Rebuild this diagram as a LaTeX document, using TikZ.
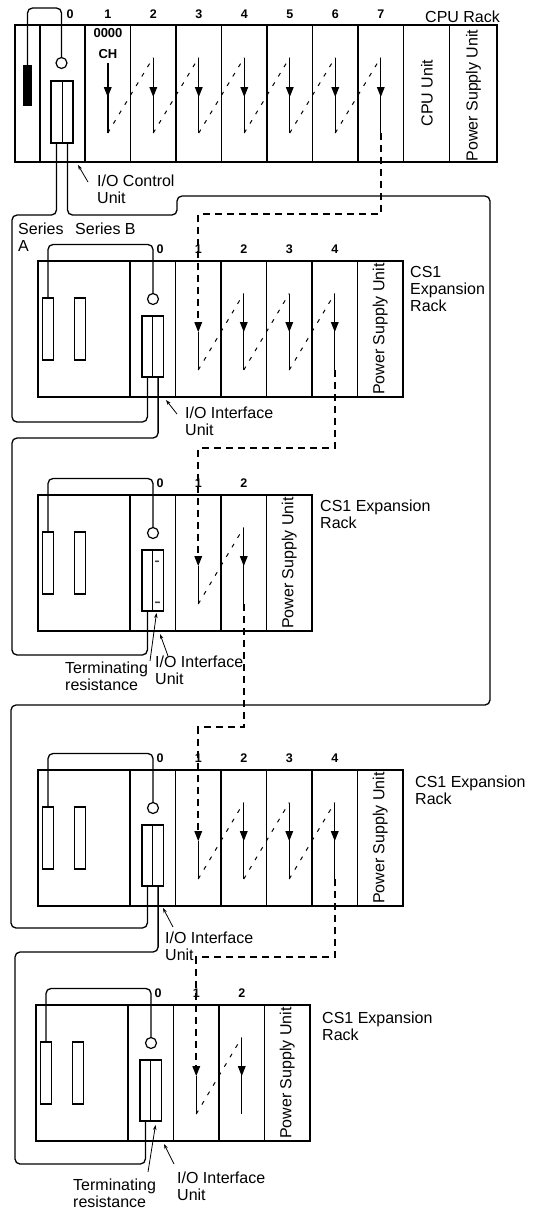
\documentclass[tikz,border=0pt]{standalone}
\usepackage{fontspec}
\setmainfont{Liberation Sans}
\usetikzlibrary{arrows.meta}
\tikzset{
  rackline/.style={line width=2pt},
  divline/.style={line width=1.2pt},
  cable/.style={line width=1.3pt, rounded corners=5pt},
  flowdash/.style={line width=1.6pt, dash pattern=on 7pt off 5pt},
  diagdash/.style={line width=1pt, dash pattern=on 4pt off 7pt},
  flowline/.style={line width=1.4pt},
  lbl/.style={inner sep=0pt, font=\fontsize{16}{17.3}\selectfont, align=left},
  num/.style={inner sep=0pt, font=\fontsize{12.5}{14}\selectfont\bfseries},
  rotlbl/.style={inner sep=0pt, font=\fontsize{16}{17.3}\selectfont, rotate=90},
  ptr/.style={line width=0.8pt, -{Stealth[length=5pt,width=3.5pt]}},
  smallbox/.style={line width=1.2pt, fill=white},
}
\newcommand{\DownHead}[2]{\fill ({#1-4},{#2-10}) -- ({#1+4},{#2-10}) -- ({#1},{#2}) -- cycle;}
\newcommand{\ExpRack}[4]{%
\begin{scope}[shift={(#2,#3)}]
  \pgfmathsetmacro{\rackR}{175.5+45.5*(#4+1)}
  \pgfmathsetmacro{\rklast}{198.25+45.5*(#4-1)}
  \pgfmathtruncatemacro{\rkm}{#4-1}
  \foreach \k in {0,...,#4}{\pgfmathsetmacro{\rkdx}{175.5+45.5*\k}\draw[divline] (\rkdx,0) -- (\rkdx,136);}
  \draw[line width=1.5pt] (130,0) -- (130,136);
  \draw[rackline] (38,0) rectangle (\rackR,136);
  \draw[smallbox] (42.5,37) rectangle (53.5,99);
  \draw[smallbox] (74.5,37) rectangle (85.5,99);
  \draw[cable] (48,37) -- (48,-16.5) -- (153,-16.5) -- (153,32.5);
  \draw[line width=1.2pt] (153,38) circle (5.5pt);
  \draw[smallbox] (142,55) rectangle (163.5,116);
  \draw[line width=1pt] (152.75,55) -- (152.75,116);
  \coordinate (#1-cl) at (147.4,116);
  \coordinate (#1-cr) at (158.1,116);
  \node[num, anchor=base] (#1-n0) at (160,-8) {0};
  \foreach \k in {1,...,#4}{\pgfmathsetmacro{\rksx}{198.25+45.5*(\k-1)}
    \node[num, anchor=base] (#1-n\k) at (\rksx,-8) {\k};}
  % slot 1 arrow (dashed part comes from above)
  \draw[flowline] (198.25,71) -- (198.25,109);
  \DownHead{198.25}{71}
  \foreach \k in {2,...,#4}{\pgfmathsetmacro{\rksx}{198.25+45.5*(\k-1)}
    \draw[flowline] (\rksx,32.5) -- (\rksx,109);
    \DownHead{\rksx}{71}}
  \foreach \k in {1,...,\rkm}{\pgfmathsetmacro{\rksx}{198.25+45.5*(\k-1)}
    \draw[diagdash] (\rksx,109) -- ({\rksx+45.5},32.5);}
  \coordinate (#1-in) at (198.25,61);
  \coordinate (#1-out) at (\rklast,109);
  \node[rotlbl] (#1-psu) at ({\rackR-22.75},68) {Power Supply Unit};
\end{scope}}
\begin{document}
\begin{tikzpicture}[x=1pt,y=-1pt]
\useasboundingbox (0,0) rectangle (540,1213);
% ---------------- CPU rack ----------------
\foreach \dv in {40,130.5,176,221.5,267,312.5,358,449.5}{\draw[divline] (\dv,25) -- (\dv,162);}
\draw[line width=1.8pt] (85,25) -- (85,162);
\draw[line width=1.6pt] (403.5,25) -- (403.5,162);
\draw[rackline] (15,25) rectangle (497,162);
\fill (23,65) rectangle (32,106);
\draw[cable] (27.5,65) -- (27.5,8) -- (61.5,8) -- (61.5,57.5);
\draw[line width=1.2pt] (61.5,63) circle (5.5pt);
\draw[smallbox] (51,81) rectangle (73,143);
\draw[line width=1pt] (62,81) -- (62,143);
\coordinate (cpu-cl) at (56.5,143);
\coordinate (cpu-cr) at (67.5,143);
\node[num, anchor=base] (cpu-n0) at (70,18) {0};
\foreach \k in {1,...,7}{\pgfmathsetmacro{\rksx}{107.75+45.5*(\k-1)}
  \node[num, anchor=base] (cpu-n\k) at (\rksx,18) {\k};}
\node[inner sep=0pt, font=\fontsize{13}{14}\selectfont\bfseries] (cpu-addr) at (108,33.5) {0000};
\node[inner sep=0pt, font=\fontsize{13}{14}\selectfont\bfseries] (cpu-ch) at (108,54) {CH};
\draw[line width=2pt] (107.75,63) -- (107.75,133);
\DownHead{107.75}{97}
\foreach \k in {2,...,7}{\pgfmathsetmacro{\rksx}{107.75+45.5*(\k-1)}
  \draw[flowline] (\rksx,57.5) -- (\rksx,133);
  \DownHead{\rksx}{97}}
\foreach \k in {1,...,6}{\pgfmathsetmacro{\rksx}{107.75+45.5*(\k-1)}
  \draw[diagdash] (\rksx,133) -- ({\rksx+45.5},57.5);}
\coordinate (cpu-out) at (380.75,133);
\node[rotlbl] (cpu-cpu) at (427,93) {CPU Unit};
\node[rotlbl] (cpu-psu) at (473.5,95.5) {Power Supply Unit};
\node[lbl, anchor=base west] (cpu-name) at (425,22) {CPU Rack};
% ---------------- expansion racks ----------------
\ExpRack{r2}{0}{261}{4}
\ExpRack{r3}{0}{495}{2}
\ExpRack{r4}{0}{770}{4}
\ExpRack{r5}{-2}{1005}{2}
% terminating resistance marks
\draw[line width=0.5pt] (155,562) -- (156,560.5) -- (157,562) -- (158,560.5) -- (159,562);
\draw[line width=0.5pt] (155,603) -- (156,601.5) -- (157,603) -- (158,601.5) -- (159,603) -- (160,601.5);
% ---------------- I/O flow (dashed) ----------------
\draw[flowdash] (cpu-out) -- ++(0,81) -| (r2-in);
\draw[flowdash] (r2-out) -- ++(0,78) -| (r3-in);
\draw[flowdash] (r3-out) -- ++(0,123) -| (r4-in);
\draw[flowdash] (r4-out) -- ++(0,78) -| (r5-in);
% ---------------- cables ----------------
\draw[cable] (cpu-cl) -- (56.5,215) -- (12,215) -- (12,422) -- (147.4,422) -- (r2-cl);
\draw[cable] (cpu-cr) -- (67.5,215) -- (177,215) -- (177,196) -- (490,196) -- (490,705) -- (11,705) -- (11,928) -- (147.4,928) -- (r4-cl);
\draw[cable] (r2-cr) -- (158.1,438) -- (12,438) -- (12,655) -- (147.4,655) -- (r3-cl);
\draw[cable] (r4-cr) -- (158.1,952) -- (15,952) -- (15,1164) -- (145.4,1164) -- (r5-cl);
% ---------------- labels (anchor = baseline of last line) ----------------
\node[lbl, anchor=base west] (ioctl) at (97,203.3) {I/O Control\\Unit};
\node[lbl, anchor=base west] (seriesA) at (18,251.3) {Series\\A};
\node[lbl, anchor=base west] (seriesB) at (75,234) {Series B};
\node[lbl, anchor=base west] (r2-name) at (410,311.6) {CS1\\Expansion\\Rack};
\node[lbl, anchor=base west] (r2-io) at (185,435.3) {I/O Interface\\Unit};
\node[lbl, anchor=base west] (r3-name) at (320,528.3) {CS1 Expansion\\Rack};
\node[lbl, anchor=base west] (r3-term) at (65,690.3) {Terminating\\resistance};
\node[lbl, anchor=base west] (r3-io) at (155,684.3) {I/O Interface\\Unit};
\node[lbl, anchor=base west] (r4-name) at (415,804.3) {CS1 Expansion\\Rack};
\node[lbl, anchor=base west] (r4-io) at (165,960.3) {I/O Interface\\Unit};
\node[lbl, anchor=base west] (r5-name) at (322,1040.3) {CS1 Expansion\\Rack};
\node[lbl, anchor=base west] (r5-term) at (73,1207.3) {Terminating\\resistance};
\node[lbl, anchor=base west] (r5-io) at (177,1200.3) {I/O Interface\\Unit};
% ---------------- pointers ----------------
\coordinate (p1a) at (88,182);   \coordinate (p1b) at (78,165);
\coordinate (p2a) at (177,414);  \coordinate (p2b) at (166,400);
\coordinate (p3a) at (150,661);  \coordinate (p3b) at (156.5,613);
\coordinate (p4a) at (168,656);  \coordinate (p4b) at (160,634);
\coordinate (p5a) at (173,927);  \coordinate (p5b) at (163,908);
\coordinate (p6a) at (148,1172); \coordinate (p6b) at (155.5,1125);
\coordinate (p7a) at (174,1164); \coordinate (p7b) at (164,1144);
\foreach \p in {1,...,7}{\draw[ptr] (p\p a) -- (p\p b);}
\end{tikzpicture}
\end{document}
